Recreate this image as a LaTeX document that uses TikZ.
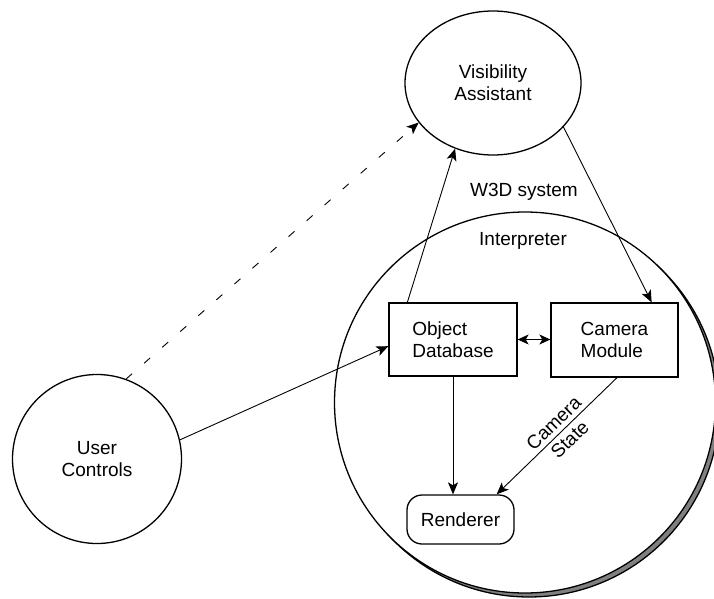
\documentclass[tikz,border=0pt]{standalone}
\usepackage{fontspec}
\setmainfont{Liberation Sans}
\usetikzlibrary{shapes.geometric,arrows.meta,calc}

\tikzset{
  lbl/.style={font=\fontsize{19}{22}\selectfont, align=center},
  shapeline/.style={draw=black, line width=1.3pt},
  bubble/.style={shapeline, circle, inner sep=0pt, lbl},
  procbox/.style={shapeline, rectangle, inner sep=0pt, font=\fontsize{19}{22}\selectfont, align=left},
  link/.style={draw=black, line width=0.9pt, -{Stealth[length=12pt,width=10pt,inset=3pt]}},
  twoway/.style={draw=black, line width=0.9pt, {Stealth[length=11pt,width=10pt,inset=3pt]}-{Stealth[length=11pt,width=10pt,inset=3pt]}},
  hint/.style={link, dash pattern=on 8pt off 16pt}
}

\begin{document}
\begin{tikzpicture}[x=1pt,y=-1pt]
\useasboundingbox (0,0) rectangle (714,599);

% system boundary with its drop shadow
\node[bubble, fill=gray, minimum size=381pt] (shadow) at (529,406.5) {};
\node[bubble, fill=white, minimum size=381pt] (sys) at (525,402.5) {};

% outer components
\node[shapeline, ellipse, inner sep=0pt, minimum width=176pt, minimum height=144pt, lbl] (va) at (493,83) {Visibility\\Assistant};
\node[bubble, minimum size=169pt] (uc) at (97,459) {User\\Controls};

% labels of the system
\node[lbl] (w3d) at (524,192) {W3D system};
\node[lbl] (interp) at (523,241) {Interpreter};

% inner components
\node[procbox, minimum width=128pt, minimum height=73pt] (odb) at (453,339.5) {Object\\Database};
\node[procbox, minimum width=127pt, minimum height=74pt] (cm) at (614.5,340) {Camera\\Module};
\node[procbox, rounded corners=15pt, minimum width=107pt, minimum height=49pt, align=center] (rend) at (460.5,519.5) {Renderer};

% connectors
\draw[hint] (uc.70) -- (va.208);
\draw[link] (uc.13) -- ($(odb.south west)!0.41!(odb.north west)$);
\draw[link] ($(odb.north west)+(19,0)$) -- (va.240);
\draw[link] (va.328) -- ($(cm.north east)+(-27,0)$);
\draw[twoway] (odb.east) -- (cm.west |- odb.east);
\draw[link] (odb.south) -- (odb.south |- rend.north);
\draw[link] ($(cm.south)+(2.5,0)$) -- node[lbl, sloped, pos=0.46, inner sep=1pt, font=\fontsize{19}{23}\selectfont] (camstate) {Camera\\State} ($(rend.north east)+(-18,0)$);
\end{tikzpicture}
\end{document}
